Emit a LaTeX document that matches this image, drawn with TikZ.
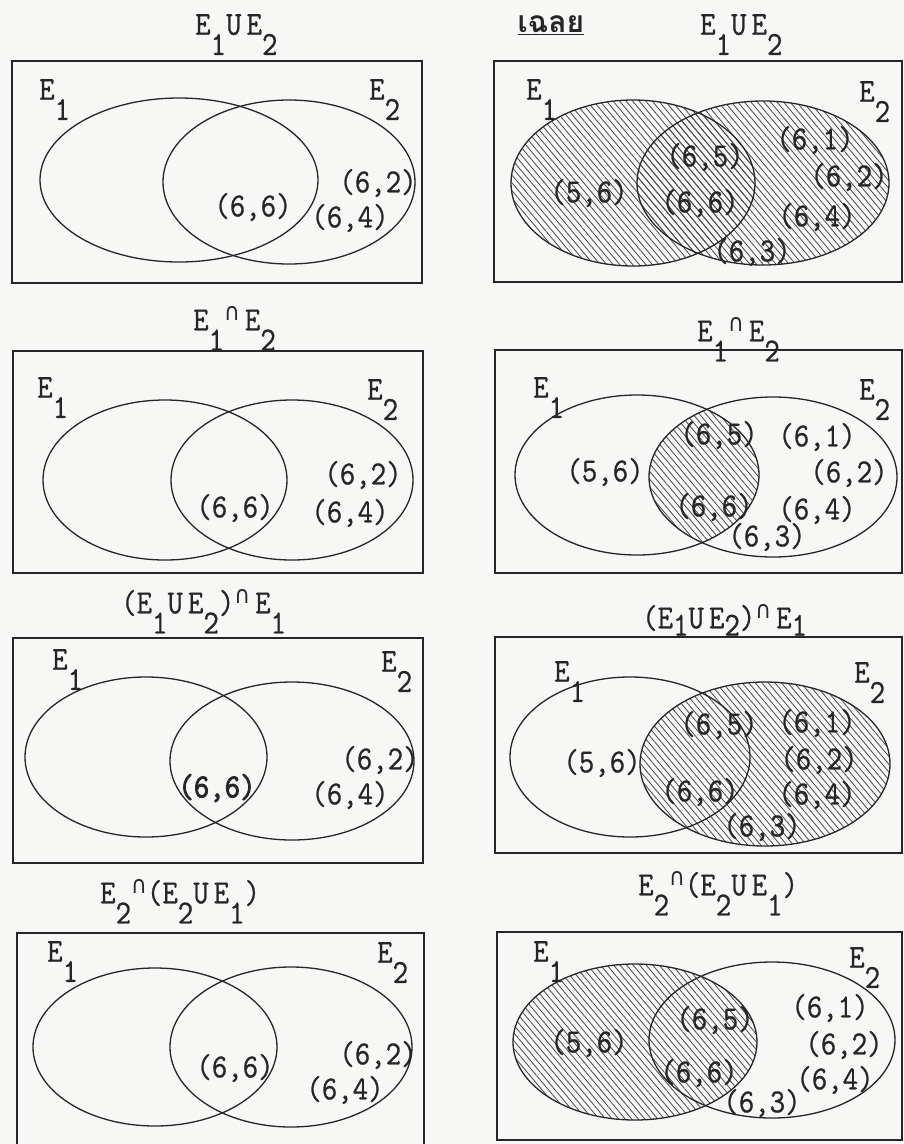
\documentclass[tikz,border=0pt]{standalone}
\usepackage{fontspec}
\usepackage{graphicx}
\usetikzlibrary{patterns.meta}
\newfontfamily\tw[FakeBold=0.8]{Latin Modern Mono}
\newfontfamily\twb[FakeBold=2.6]{Latin Modern Mono}
\newfontfamily\dv{DejaVu Sans}
\newfontfamily\thaifont[Script=Thai]{Loma}
\definecolor{ink}{RGB}{38,38,38}
\definecolor{paper}{RGB}{247,247,245}
\newcommand{\T}[1]{\scalebox{1}[1.12]{\tw\fontsize{30}{30}\selectfont #1}}
\newcommand{\TB}[1]{\scalebox{1}[1.12]{\twb\fontsize{30}{30}\selectfont #1}}
\newcommand{\lowr}[1]{\raisebox{-0.6em}{#1}}
\newcommand{\lowh}[1]{\raisebox{-0.22em}{#1}}
\newcommand{\isect}{\raisebox{0.3em}{\scalebox{0.72}{\dv ∩}}}
\tikzset{
  box/.style={draw=ink, line width=1.6pt},
  ell/.style={draw=ink, line width=1.3pt},
  hatch/.style={pattern={Lines[angle=-50,distance=5pt,line width=0.8pt]}, pattern color=ink!85},
  lbl/.style={inner sep=0pt, text=ink},
  elbl/.style={inner sep=0pt, text=ink, anchor=north west},
}
\begin{document}
\begin{tikzpicture}[x=1pt,y=-1pt]
\fill[paper] (0,0) rectangle (904,1144);
\useasboundingbox (0,0) rectangle (904,1144);

% ---------- Panel 1 ----------
\node[elbl] (t1) at (195,14) {\T{E\lowr{1}U\,E\lowr{2}}};
\draw[ell] (179,180) ellipse [x radius=139, y radius=82];
\draw[ell] (289,182) ellipse [x radius=126, y radius=82];
\draw[box] (12,61) rectangle (422,283);
\node[elbl] (a1) at (39,79) {\T{E\lowr{1}}};
\node[elbl] (b1) at (369,79) {\T{E\lowr{2}}};
\node[lbl] (p1a) at (253,207) {\T{(6,6)}};
\node[lbl] (p1b) at (350,218) {\T{(6,4)}};
\node[lbl] (p1c) at (378,183) {\T{(6,2)}};

% ---------- Panel 2 ----------
\node[lbl] (th) at (551,25) {\thaifont\fontsize{30}{30}\selectfont\textbf{\underline{เฉลย}}};
\node[elbl] (t2) at (700,14) {\T{E\lowr{1}U\,E\lowr{2}}};
\fill[hatch] (633,183) ellipse [x radius=122, y radius=83];
\fill[hatch] (763,183) ellipse [x radius=126, y radius=82];
\draw[ell] (633,183) ellipse [x radius=122, y radius=83];
\draw[ell] (763,183) ellipse [x radius=126, y radius=82];
\draw[box] (494,61) rectangle (902,282);
\node[elbl] (a2) at (526,79) {\T{E\lowr{1}}};
\node[elbl] (b2) at (859,81) {\T{E\lowr{2}}};
\node[lbl] (p2a) at (589,193) {\T{(5,6)}};
\node[lbl] (p2b) at (705,157) {\T{(6,5)}};
\node[lbl] (p2c) at (700,203) {\T{(6,6)}};
\node[lbl] (p2d) at (815,140) {\T{(6,1)}};
\node[lbl] (p2e) at (849,177) {\T{(6,2)}};
\node[lbl] (p2f) at (817,217) {\T{(6,4)}};
\node[lbl] (p2g) at (752,252) {\T{(6,3)}};

% ---------- Panel 3 ----------
\node[elbl] (t3) at (193,306) {\T{E\lowr{1}\isect\,E\lowr{2}}};
\draw[ell] (165,480) ellipse [x radius=122, y radius=80];
\draw[ell] (292,480) ellipse [x radius=121, y radius=80];
\draw[box] (13,351) rectangle (423,573);
\node[elbl] (a3) at (37,377) {\T{E\lowr{1}}};
\node[elbl] (b3) at (367,379) {\T{E\lowr{2}}};
\node[lbl] (p3a) at (235,508) {\T{(6,6)}};
\node[lbl] (p3b) at (363,475) {\T{(6,2)}};
\node[lbl] (p3c) at (350,513) {\T{(6,4)}};

% ---------- Panel 4 ----------
\node[elbl] (t4) at (697,317) {\T{E\lowr{1}\isect\,E\lowr{2}}};
\begin{scope}
  \clip (637,475) ellipse [x radius=122, y radius=80];
  \fill[hatch] (773,477) ellipse [x radius=124, y radius=80];
\end{scope}
\draw[ell] (637,475) ellipse [x radius=122, y radius=80];
\draw[ell] (773,477) ellipse [x radius=124, y radius=80];
\draw[box] (495,350) rectangle (902,573);
\node[elbl] (a4) at (533,377) {\T{E\lowr{1}}};
\node[elbl] (b4) at (859,379) {\T{E\lowr{2}}};
\node[lbl] (p4a) at (605,472) {\T{(5,6)}};
\node[lbl] (p4b) at (719,435) {\T{(6,5)}};
\node[lbl] (p4c) at (714,507) {\T{(6,6)}};
\node[lbl] (p4d) at (817,437) {\T{(6,1)}};
\node[lbl] (p4e) at (849,473) {\T{(6,2)}};
\node[lbl] (p4f) at (817,510) {\T{(6,4)}};
\node[lbl] (p4g) at (767,537) {\T{(6,3)}};

% ---------- Panel 5 ----------
\node[elbl] (t5) at (121,589) {\T{(E\lowr{1}U\,E\lowr{2})\isect\,E\lowr{1}}};
\draw[ell] (146,757) ellipse [x radius=121, y radius=80];
\draw[ell] (292,761) ellipse [x radius=122, y radius=79];
\draw[box] (13,638) rectangle (423,863);
\node[elbl] (a5) at (52,649) {\T{E\lowr{1}}};
\node[elbl] (b5) at (381,651) {\T{E\lowr{2}}};
\node[lbl] (p5a) at (217,788) {\TB{(6,6)}};
\node[lbl] (p5b) at (380,760) {\T{(6,2)}};
\node[lbl] (p5c) at (350,795) {\T{(6,4)}};

% ---------- Panel 6 ----------
\node[elbl] (t6) at (642,604) {\T{(E\lowh{1}U\,E\lowh{2})\isect\,E\lowh{1}}};
\fill[hatch] (765,764) ellipse [x radius=125, y radius=82];
\draw[ell] (630,757) ellipse [x radius=120, y radius=80];
\draw[ell] (765,764) ellipse [x radius=125, y radius=82];
\draw[box] (495,637) rectangle (902,853);
\node[elbl] (a6) at (554,661) {\T{E\lowr{1}}};
\node[elbl] (b6) at (854,662) {\T{E\lowr{2}}};
\node[lbl] (p6a) at (602,763) {\T{(5,6)}};
\node[lbl] (p6b) at (719,725) {\T{(6,5)}};
\node[lbl] (p6c) at (700,792) {\T{(6,6)}};
\node[lbl] (p6d) at (817,723) {\T{(6,1)}};
\node[lbl] (p6e) at (819,760) {\T{(6,2)}};
\node[lbl] (p6f) at (817,795) {\T{(6,4)}};
\node[lbl] (p6g) at (762,827) {\T{(6,3)}};

% ---------- Panel 7 ----------
\node[elbl] (t7) at (100,879) {\T{E\lowr{2}\isect(E\lowr{2}U\,E\lowr{1})}};
\draw[ell] (155,1047) ellipse [x radius=122, y radius=79];
\draw[ell] (291,1047) ellipse [x radius=121, y radius=80];
\draw[box] (17,1146) -- (17,933) -- (424,933) -- (424,1146);
\node[elbl] (a7) at (47,941) {\T{E\lowr{1}}};
\node[elbl] (b7) at (377,942) {\T{E\lowr{2}}};
\node[lbl] (p7a) at (235,1068) {\T{(6,6)}};
\node[lbl] (p7b) at (378,1055) {\T{(6,2)}};
\node[lbl] (p7c) at (345,1090) {\T{(6,4)}};

% ---------- Panel 8 ----------
\node[elbl] (t8) at (638,871) {\T{E\lowr{2}\isect(E\lowr{2}U\,E\lowr{1})}};
\fill[hatch] (635,1042) ellipse [x radius=122, y radius=78];
\draw[ell] (635,1042) ellipse [x radius=122, y radius=78];
\draw[ell] (772,1040) ellipse [x radius=123, y radius=78];
\draw[box] (497,1140) rectangle (902,932);
\node[elbl] (a8) at (533,941) {\T{E\lowr{1}}};
\node[elbl] (b8) at (849,947) {\T{E\lowr{2}}};
\node[lbl] (p8a) at (589,1043) {\T{(5,6)}};
\node[lbl] (p8b) at (715,1020) {\T{(6,5)}};
\node[lbl] (p8c) at (699,1073) {\T{(6,6)}};
\node[lbl] (p8d) at (830,1008) {\T{(6,1)}};
\node[lbl] (p8e) at (844,1045) {\T{(6,2)}};
\node[lbl] (p8f) at (835,1080) {\T{(6,4)}};
\node[lbl] (p8g) at (762,1103) {\T{(6,3)}};
\end{tikzpicture}
\end{document}
